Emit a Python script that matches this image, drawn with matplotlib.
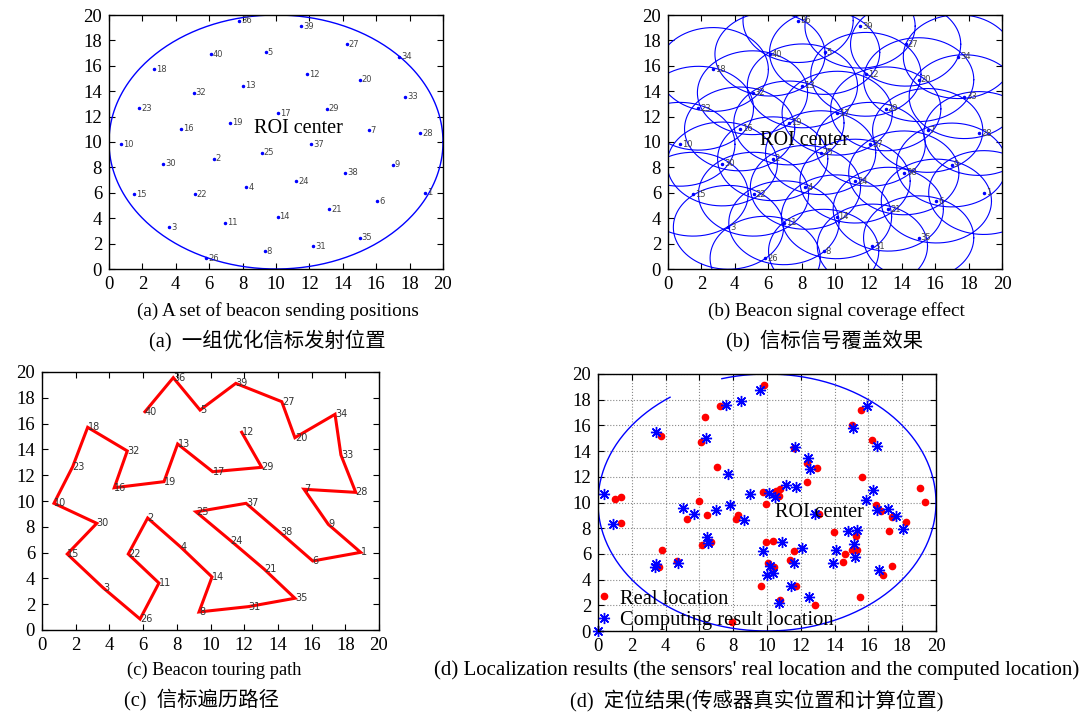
import numpy as np
import matplotlib
matplotlib.use("Agg")
import matplotlib.pyplot as plt

plt.rcParams['font.family'] = ['Liberation Serif', 'Noto Sans CJK SC']

# ---- data ----
beacon_ids = [40, 36, 5, 39, 27, 20, 34, 33, 28, 7, 9, 1, 6, 38, 37, 25, 24, 21, 35, 31,
              8, 14, 4, 2, 22, 11, 26, 3, 15, 30, 10, 23, 18, 32, 16, 19, 13, 17, 29, 12]
beacon_x = [6.11, 7.79, 9.38, 11.50, 14.23, 15.01, 17.39, 17.74, 18.62, 15.55, 16.99, 18.91,
            16.07, 14.12, 12.11, 9.14, 11.20, 13.19, 15.01, 12.24, 9.32, 10.09, 8.23, 6.27,
            5.12, 6.94, 5.82, 3.62, 1.50, 3.25, 0.71, 1.82, 2.71, 5.06, 4.29, 7.24, 8.05,
            10.13, 13.04, 11.85]
beacon_y = [16.92, 19.56, 17.05, 19.12, 17.70, 14.91, 16.72, 13.57, 10.67, 10.91, 8.19, 6.02,
            5.35, 7.57, 9.82, 9.16, 6.92, 4.71, 2.46, 1.81, 1.40, 4.11, 6.43, 8.68,
            5.89, 3.64, 0.85, 3.28, 5.89, 8.27, 9.82, 12.66, 15.71, 13.88, 11.03, 11.50, 14.42,
            12.27, 12.61, 15.33]

real_x = [9.84, 7.22, 6.35, 3.71, 6.08, 7.02, 11.60, 12.37, 12.94, 12.37, 1.02, 1.34, 5.96,
          9.75, 10.53, 10.77, 10.73, 9.92, 15.56, 15.05, 16.23, 15.62, 19.07, 19.33, 16.43,
          1.34, 3.77, 3.61, 4.66, 6.47, 5.28, 8.15, 8.30, 6.13, 6.69, 9.92, 10.33, 10.08,
          10.41, 11.58, 11.38, 11.73, 9.63, 10.79, 12.82, 7.91, 13.08, 13.98, 15.25, 14.63,
          14.48, 15.05, 15.31, 16.75, 17.40, 18.22, 17.20, 17.41, 16.88, 15.50]
real_y = [19.14, 17.52, 16.69, 15.18, 14.71, 12.73, 14.24, 13.10, 12.71, 11.59, 10.26, 10.39,
          10.08, 10.78, 10.91, 11.02, 10.49, 9.92, 17.19, 16.02, 14.84, 12.01, 11.15, 10.05,
          9.84, 8.41, 6.33, 4.95, 5.47, 9.06, 8.73, 8.73, 9.06, 6.72, 6.95, 6.95, 7.01, 5.29,
          4.98, 6.25, 5.52, 3.49, 3.49, 2.45, 2.01, 0.73, 9.09, 7.68, 7.37, 5.99, 5.39, 6.27,
          6.27, 9.30, 8.88, 8.46, 7.81, 5.08, 4.32, 2.63]

comp_x = [9.60, 8.48, 7.57, 3.43, 6.37, 11.66, 12.41, 12.54, 7.69, 11.72, 11.11, 9.01, 10.14,
          10.47, 0.37, 5.05, 7.81, 6.98, 15.90, 15.07, 16.49, 16.29, 15.86, 17.18, 0.87, 5.66,
          8.66, 6.47, 6.51, 3.41, 3.37, 4.72, 9.76, 10.91, 10.18, 10.33, 10.00, 11.58, 12.07,
          11.44, 10.71, 12.50, 12.82, 14.06, 13.89, 0.0, 14.77, 15.34, 15.15, 15.19, 16.49,
          17.63, 18.05, 16.61]
comp_y = [18.73, 17.92, 17.60, 15.45, 15.02, 14.30, 13.44, 12.58, 12.24, 11.23, 11.33, 10.68,
          10.76, 10.45, 10.68, 9.55, 9.84, 9.45, 17.52, 15.76, 14.38, 10.94, 10.21, 9.51, 8.31,
          9.09, 8.62, 7.32, 6.85, 5.21, 5.00, 5.29, 6.20, 6.93, 5.02, 4.51, 4.35, 5.29, 6.46,
          3.52, 2.21, 2.68, 9.11, 6.27, 5.29, 0.0, 7.76, 7.84, 6.80, 5.76, 9.45, 8.93, 7.92,
          4.74]

roi_center = (10, 10)
roi_radius = 10
coverage_radius = 3.3
ticks = list(range(0, 21, 2))

W, H = 1092, 716
fig = plt.figure(figsize=(W / 100, H / 100), dpi=100)


def px_axes(x0, y0, x1, y1):
    return fig.add_axes([x0 / W, 1 - y1 / H, (x1 - x0) / W, (y1 - y0) / H])


def style(ax):
    ax.set_xlim(0, 20)
    ax.set_ylim(0, 20)
    ax.set_xticks(ticks)
    ax.set_yticks(ticks)
    ax.tick_params(direction='in', top=True, right=True, length=4, width=0.8,
                   labelsize=13.5, pad=5)
    for s in ax.spines.values():
        s.set_linewidth(1.0)


t = np.linspace(0, 2 * np.pi, 400)

# (a)
axa = px_axes(109, 15, 443, 269)
style(axa)
axa.plot(roi_center[0] + roi_radius * np.cos(t), roi_center[1] + roi_radius * np.sin(t),
         color='blue', lw=1.0)
axa.plot(beacon_x, beacon_y, 'o', color='blue', ms=1.5, ls='none')
for i, x, y in zip(beacon_ids, beacon_x, beacon_y):
    axa.text(x + 0.12, y, str(i), fontsize=6, color='#444444', va='center', ha='left',
             family='DejaVu Sans')
axa.text(8.7, 11.1, 'ROI center', fontsize=14.5, va='center', ha='left')

# (b)
axb = px_axes(668, 15, 1002, 269)
style(axb)
for x, y in zip(beacon_x, beacon_y):
    axb.plot(x + coverage_radius * np.cos(t), y + coverage_radius * np.sin(t),
             color='blue', lw=0.8)
axb.plot(beacon_x, beacon_y, 'o', color='blue', ms=1.5, ls='none')
for i, x, y in zip(beacon_ids, beacon_x, beacon_y):
    axb.text(x + 0.12, y, str(i), fontsize=6, color='#444444', va='center', ha='left',
             family='DejaVu Sans')
axb.text(5.5, 10.1, 'ROI center', fontsize=14.5, va='center', ha='left')

# (c)
axc = px_axes(42, 372, 379, 630)
style(axc)
axc.plot(beacon_x, beacon_y, color='red', lw=2.2, solid_joinstyle='miter')
for i, x, y in zip(beacon_ids, beacon_x, beacon_y):
    axc.text(x, y, str(i), fontsize=7, color='#333333', va='center', ha='left',
             family='DejaVu Sans')

# (d)
axd = px_axes(598, 374, 936, 631)
style(axd)
axd.grid(True, ls=':', color='#888888', lw=0.8)
a1 = np.linspace(np.deg2rad(125), np.deg2rad(360 + 105.5), 400)
axd.plot(roi_center[0] + roi_radius * np.cos(a1), roi_center[1] + roi_radius * np.sin(a1),
         color='blue', lw=1.0)
axd.plot(real_x, real_y, 'o', color='red', ms=4.5, ls='none', label='Real location')
axd.plot(comp_x, comp_y, ls='none', marker=(8, 2, 0), color='blue', ms=8, mew=1.0,
         label='Computing result location', clip_on=False)
axd.text(10.5, 9.2, 'ROI center', fontsize=14.5, va='center', ha='left')
axd.legend(loc='lower left', frameon=False, fontsize=14.8, handlelength=0.6,
           handletextpad=0.5, borderaxespad=0.0, labelspacing=0.12,
           bbox_to_anchor=(-0.026, -0.03))

# captions
fig.text(278 / W, 1 - 311 / H, '(a) A set of beacon sending positions', ha='center', va='center', fontsize=13.8)
fig.text(267 / W, 1 - 341 / H, '(a)  一组优化信标发射位置', ha='center', va='center', fontsize=14.7)
fig.text(836 / W, 1 - 311 / H, '(b) Beacon signal coverage effect', ha='center', va='center', fontsize=13.8)
fig.text(825 / W, 1 - 341 / H, '(b)  信标信号覆盖效果', ha='center', va='center', fontsize=14.7)
fig.text(214 / W, 1 - 670 / H, '(c) Beacon touring path', ha='center', va='center', fontsize=13.2)
fig.text(201 / W, 1 - 700 / H, '(c)  信标遍历路径', ha='center', va='center', fontsize=14.7)
fig.text(757 / W, 1 - 670 / H,
         "(d) Localization results (the sensors' real location and the computed location)",
         ha='center', va='center', fontsize=15)
fig.text(757 / W, 1 - 700 / H, '(d)  定位结果(传感器真实位置和计算位置)', ha='center', va='center', fontsize=14.7)

fig.savefig('out.png', dpi=100)
